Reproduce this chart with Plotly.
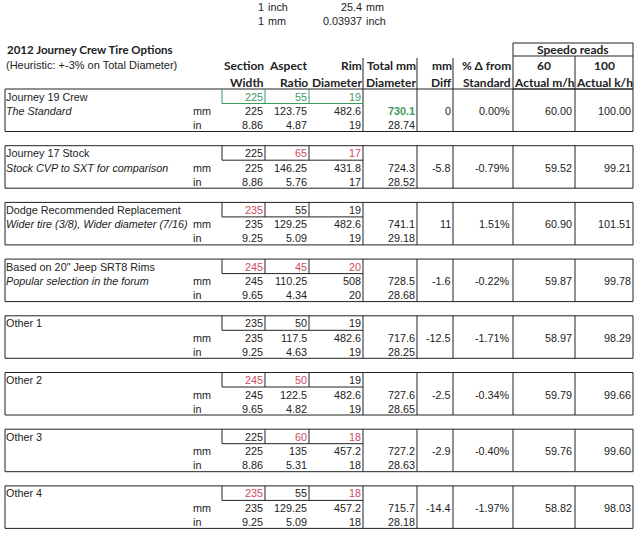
import plotly.graph_objects as go

# --- data ---
names = ["Journey 19 Crew", "Journey 17 Stock", "Dodge Recommended Replacement",
         'Based on 20" Jeep SRT8 Rims', "Other 1", "Other 2", "Other 3", "Other 4"]
notes = ["The Standard", "Stock CVP to SXT for comparison",
         "Wider tire (3/8), Wider diameter (7/16)", "Popular selection in the forum",
         "", "", "", ""]
width_mm = [225, 225, 235, 245, 235, 245, 225, 235]
aspect = [55, 65, 55, 45, 50, 50, 60, 55]
rim_in = [19, 17, 19, 20, 19, 19, 18, 18]
sidewall_mm = [123.75, 146.25, 129.25, 110.25, 117.5, 122.5, 135, 129.25]
rim_mm = [482.6, 431.8, 482.6, 508, 482.6, 482.6, 457.2, 457.2]
width_in = [8.86, 8.86, 9.25, 9.65, 9.25, 9.65, 8.86, 9.25]
sidewall_in = [4.87, 5.76, 5.09, 4.34, 4.63, 4.82, 5.31, 5.09]
total_mm = [730.1, 724.3, 741.1, 728.5, 717.6, 727.6, 727.2, 715.7]
total_in = [28.74, 28.52, 29.18, 28.68, 28.25, 28.65, 28.63, 28.18]
mm_diff = [0, -5.8, 11, -1.6, -12.5, -2.5, -2.9, -14.4]
pct_diff = [0.00, -0.79, 1.51, -0.22, -1.71, -0.34, -0.40, -1.97]
speedo_mph = [60.00, 59.52, 60.90, 59.87, 58.97, 59.79, 59.76, 58.82]
speedo_kph = [100.00, 99.21, 101.51, 99.78, 98.29, 99.66, 99.60, 98.03]
# inputs that differ from the standard tire (shown in red)
width_changed = [False, False, True, True, False, True, False, True]
aspect_changed = [False, True, False, True, False, True, True, False]
rim_changed = [False, True, False, True, False, False, True, True]

BODY = "Liberation Sans, Arial, sans-serif"
HEAD = "Lato, Calibri, sans-serif"
INK = "#222222"
GREEN = "#3c9a5f"
RED = "#cc4b5b"
FS = 10.8

# column right edges (sheet pixels)
C_SEC, C_ASP, C_RIM, C_TOT, C_DIF, C_PCT, C_MPH, C_KPH = 263, 307, 361, 415, 451, 510, 572, 631
B_LEFT, B_RIGHT = 5, 633
V_LINES = [363, 417, 453, 513, 575]
TOP0, STEP, BH = 89, 56.7, 42.5

fig = go.Figure()
ann = []
shapes = []


def txt(x, y, s, anchor="right", size=FS, color=INK, family=BODY):
    dx = 2 if anchor == "right" else -2
    ann.append(dict(x=x + dx, y=y, text=s, xref="x", yref="y", showarrow=False,
                    xanchor=anchor, yanchor="middle",
                    font=dict(family=family, size=size, color=color)))


def line(x0, y0, x1, y1, color=INK, w=1):
    shapes.append(dict(type="line", xref="x", yref="y", x0=x0, y0=y0, x1=x1, y1=y1,
                       line=dict(color=color, width=w)))


g = lambda v: f"{v:g}"

# unit conversions on top
txt(264, 7, "1"); txt(268, 7, "inch", anchor="left")
txt(264, 21, "1"); txt(268, 21, "mm", anchor="left")
txt(362, 7, "25.4"); txt(366, 7, "mm", anchor="left")
txt(362, 21, "0.03937"); txt(366, 21, "inch", anchor="left")

# title
txt(7, 49, "<b>2012 Journey Crew Tire Options</b>", anchor="left", size=11.5, family=HEAD)
txt(6, 65, "(Heuristic: +-3% on Total Diameter)", anchor="left", size=11)

# column headers
hdr = [(C_SEC + 1, "Section", "Width"), (C_ASP + 1, "Aspect", "Ratio"),
       (C_RIM + 1, "Rim", "Diameter"), (C_TOT + 1, "Total mm", "Diameter"),
       (C_DIF + 1, "mm", "Diff"), (C_PCT + 1, "% Δ from", "Standard")]
for x, a, b in hdr:
    txt(x, 65, f"<b>{a}</b>", size=12, family=HEAD)
    txt(x, 82, f"<b>{b}</b>", size=12, family=HEAD)
for x0, x1, a, b in [(513, 575, "60", "Actual m/h"), (575, 633, "100", "Actual k/h")]:
    ann.append(dict(x=(x0 + x1) / 2, y=65, text=f"<b>{a}</b>", showarrow=False,
                    xref="x", yref="y", font=dict(family=HEAD, size=12, color=INK)))
    ann.append(dict(x=(x0 + x1) / 2, y=82, text=f"<b>{b}</b>", showarrow=False,
                    xref="x", yref="y", font=dict(family=HEAD, size=12, color=INK)))
ann.append(dict(x=573, y=49.5, text="<b>Speedo reads</b>", showarrow=False,
                xref="x", yref="y", font=dict(family=HEAD, size=12, color=INK)))

# header borders
shapes.append(dict(type="rect", xref="x", yref="y", x0=513, y0=43, x1=633, y1=TOP0,
                   line=dict(color=INK, width=1)))
line(513, 56, 633, 56)
line(575, 56, 575, TOP0)
for x in [363, 417, 453]:
    line(x, 58, x, TOP0)

# option blocks
for i, name in enumerate(names):
    top = TOP0 + i * STEP
    r1, r2, r3 = top + 7.5, top + 22, top + 36
    shapes.append(dict(type="rect", xref="x", yref="y", x0=B_LEFT, y0=top, x1=B_RIGHT,
                       y1=top + BH, line=dict(color=INK, width=1)))
    for x in V_LINES:
        line(x, top, x, top + BH)
    box_col = GREEN if i == 0 else INK
    line(222, top + 14.5, 363, top + 14.5, color=box_col)
    for x in [222, 265, 309]:
        line(x, top, x, top + 14.5, color=box_col)

    txt(6, r1, name, anchor="left")
    if notes[i]:
        txt(6, r2, f"<i>{notes[i]}</i>", anchor="left")
    txt(193, r2, "mm", anchor="left")
    txt(193, r3, "in", anchor="left")

    def col(flag):
        return GREEN if i == 0 else (RED if flag else INK)

    txt(C_SEC, r1, g(width_mm[i]), color=col(width_changed[i]))
    txt(C_ASP, r1, g(aspect[i]), color=col(aspect_changed[i]))
    txt(C_RIM, r1, g(rim_in[i]), color=col(rim_changed[i]))

    txt(C_SEC, r2, g(width_mm[i]))
    txt(C_ASP, r2, g(sidewall_mm[i]))
    txt(C_RIM, r2, g(rim_mm[i]))
    tot = f"<b>{total_mm[i]:.1f}</b>" if i == 0 else f"{total_mm[i]:.1f}"
    txt(C_TOT, r2, tot, color=GREEN if i == 0 else INK)
    txt(C_DIF, r2, g(mm_diff[i]))
    txt(C_PCT, r2, f"{pct_diff[i]:.2f}%")
    txt(C_MPH, r2, f"{speedo_mph[i]:.2f}")
    txt(C_KPH, r2, f"{speedo_kph[i]:.2f}")

    txt(C_SEC, r3, f"{width_in[i]:.2f}")
    txt(C_ASP, r3, f"{sidewall_in[i]:.2f}")
    txt(C_RIM, r3, g(rim_in[i]))
    txt(C_TOT, r3, f"{total_in[i]:.2f}")

fig.update_layout(
    width=640, height=533,
    margin=dict(l=0, r=0, t=0, b=0),
    paper_bgcolor="white", plot_bgcolor="white",
    xaxis=dict(range=[0, 640], visible=False, fixedrange=True),
    yaxis=dict(range=[533, 0], visible=False, fixedrange=True),
    annotations=ann, shapes=shapes, showlegend=False,
)
fig.write_html("out.html", config=dict(displayModeBar=False),
               post_script="document.body.style.margin='0';document.body.style.overflow='hidden';")
